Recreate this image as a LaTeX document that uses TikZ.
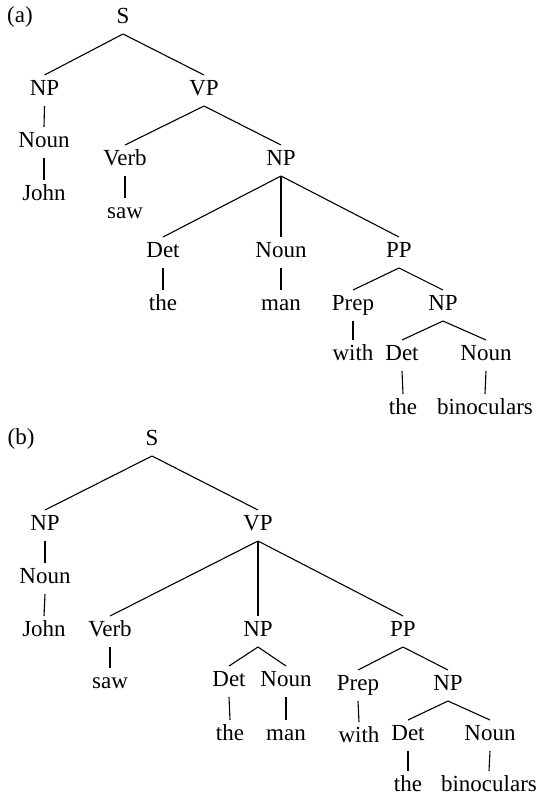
\documentclass[tikz,border=0pt]{standalone}
\usepackage{fontspec}
\setmainfont{Liberation Serif}
\newfontfamily\treefont{Liberation Serif}
\begin{document}
\begin{tikzpicture}[x=1pt,y=-1pt,
  lab/.style={anchor=base,inner sep=0pt,font=\treefont\fontsize{23}{27}\selectfont},
  tn/.style={anchor=base,inner xsep=0pt,inner ysep=7pt,outer sep=0pt,text height=13pt,text depth=4pt,font=\treefont\fontsize{23}{27}\selectfont},
  lowleaf/.style={tn,inner ysep=0pt,text height=20pt,text depth=0pt},
  br/.style={line width=1.1pt}]
\useasboundingbox (0,0) rectangle (538,796);
% ---------- (a) ----------
\node[lab] (alab) at (20,22) {(a)};
\node[tn] (aS) at (123,23) {S};
\node[tn] (aNP) at (44.5,95) {NP};
\node[tn] (aVP) at (204,95) {VP};
\node[tn] (aN1) at (44,147) {Noun};
\node[tn] (aJohn) at (44,200) {John};
\node[tn] (aV) at (125,165) {Verb};
\node[tn] (asaw) at (125,218) {saw};
\node[tn] (aNP2) at (281,165) {NP};
\node[tn] (aDet) at (163,257) {Det};
\node[tn] (aN2) at (281,257) {Noun};
\node[tn] (aPP) at (399,257) {PP};
\node[tn] (athe) at (163,310) {the};
\node[tn] (aman) at (281,310) {man};
\node[tn] (aPrep) at (353,310) {Prep};
\node[tn] (aNP3) at (443,310) {NP};
\node[tn] (awith) at (353,360) {with};
\node[tn] (aDet2) at (402,360) {Det};
\node[tn] (aN3) at (486,360) {Noun};
\node[tn] (athe2) at (403,414) {the};
\node[tn] (abino) at (485,414) {binoculars};
\draw[br] (aS.south) -- (aNP.north);
\draw[br] (aS.south) -- (aVP.north);
\draw[br] (aNP.south) -- (aN1.north);
\draw[br] (aN1.south) -- (aJohn.north);
\draw[br] (aVP.south) -- (aV.north);
\draw[br] (aVP.south) -- (aNP2.north);
\draw[br] (aV.south) -- (asaw.north);
\draw[br] (aNP2.south) -- (aDet.north);
\draw[br] (aNP2.south) -- (aN2.north);
\draw[br] (aNP2.south) -- (aPP.north);
\draw[br] (aDet.south) -- (athe.north);
\draw[br] (aN2.south) -- (aman.north);
\draw[br] (aPP.south) -- (aPrep.north);
\draw[br] (aPP.south) -- (aNP3.north);
\draw[br] (aPrep.south) -- (awith.north);
\draw[br] (aNP3.south) -- (aDet2.north);
\draw[br] (aNP3.south) -- (aN3.north);
\draw[br] (aDet2.south) -- (athe2.north);
\draw[br] (aN3.south) -- (abino.north);
% ---------- (b) ----------
\node[lab] (blab) at (21,444) {(b)};
\node[tn] (bS) at (152,445) {S};
\node[tn] (bNP) at (45,530) {NP};
\node[tn] (bVP) at (258,530) {VP};
\node[tn] (bN1) at (45,583) {Noun};
\node[tn] (bJohn) at (44,636) {John};
\node[tn] (bV) at (110,636) {Verb};
\node[tn] (bNP2) at (258,636) {NP};
\node[tn] (bPP) at (403,636) {PP};
\node[tn] (bsaw) at (110,688) {saw};
\node[tn] (bDet) at (229,686) {Det};
\node[tn] (bN2) at (286,686) {Noun};
\node[tn] (bPrep) at (358,690) {Prep};
\node[tn] (bNP3) at (448,690) {NP};
\node[tn] (bthe) at (230,740) {the};
\node[tn] (bman) at (286,740) {man};
\node[tn] (bwith) at (359,742) {with};
\node[tn] (bDet2) at (408,740) {Det};
\node[tn] (bN3) at (490,740) {Noun};
\node[lowleaf] (bthe2) at (408,791) {the};
\node[lowleaf] (bbino) at (489,791) {binoculars};
\draw[br] (bS.south) -- (bNP.north);
\draw[br] (bS.south) -- (bVP.north);
\draw[br] (bNP.south) -- (bN1.north);
\draw[br] (bN1.south) -- (bJohn.north);
\draw[br] (bVP.south) -- (bV.north);
\draw[br] (bVP.south) -- (bNP2.north);
\draw[br] (bVP.south) -- (bPP.north);
\draw[br] (bV.south) -- (bsaw.north);
\draw[br] (bNP2.south) -- (bDet.north);
\draw[br] (bNP2.south) -- (bN2.north);
\draw[br] (bDet.south) -- (bthe.north);
\draw[br] (bN2.south) -- (bman.north);
\draw[br] (bPP.south) -- (bPrep.north);
\draw[br] (bPP.south) -- (bNP3.north);
\draw[br] (bPrep.south) -- (bwith.north);
\draw[br] (bNP3.south) -- (bDet2.north);
\draw[br] (bNP3.south) -- (bN3.north);
\draw[br] (bDet2.south) -- (bthe2.north);
\draw[br] (bN3.south) -- (bbino.north);
\end{tikzpicture}
\end{document}
